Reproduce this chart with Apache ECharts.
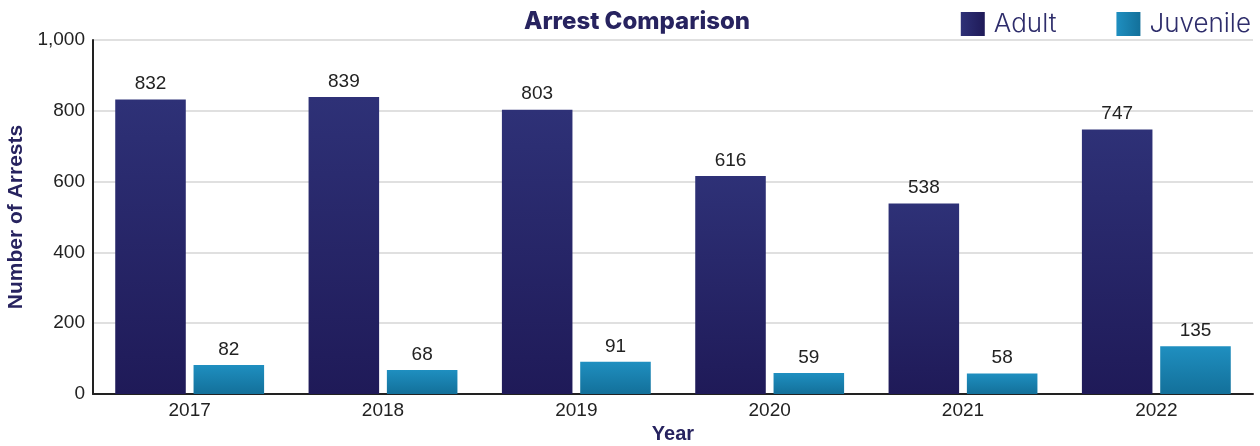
<!DOCTYPE html>
<html><head><meta charset="utf-8">
<script src="https://cdn.jsdelivr.net/npm/echarts@6/dist/echarts.min.js"></script>
<style>html,body{margin:0;padding:0;background:#fff}#c{width:1260px;height:446px}</style>
</head><body><div id="c"></div>
<script>
const years = ['2017','2018','2019','2020','2021','2022'];
const adult = [832, 839, 803, 616, 538, 747];
const juvenile = [82, 68, 91, 59, 58, 135];
const yTicks = [0, 200, 400, 600, 800, 1000];

const G = echarts.graphic;
const adultFill = new G.LinearGradient(0,0,0,1,[{offset:0,color:'#2e3177'},{offset:1,color:'#1f1a58'}]);
const juvFill = new G.LinearGradient(0,0,0,1,[{offset:0,color:'#1f8fc0'},{offset:1,color:'#13709a'}]);
const adultLeg = new G.LinearGradient(0,0,1,0,[{offset:0,color:'#2e3177'},{offset:1,color:'#1f1a58'}]);
const juvLeg = new G.LinearGradient(0,0,1,0,[{offset:0,color:'#1f8fc0'},{offset:1,color:'#13709a'}]);
const font = '"Liberation Sans", Arial, sans-serif';
const chart = echarts.init(document.getElementById('c'));
chart.setOption({
  animation:false,
  title:{text:'Arrest Comparison',left:632,textAlign:'center',top:5,
    textStyle:{fontFamily:'Inter, sans-serif',fontWeight:800,fontSize:24,color:'#27235f'}},
  legend:{right:4,top:6,itemWidth:24,itemHeight:24,itemGap:60,icon:'rect',
    textStyle:{fontFamily:'Inter, sans-serif',fontWeight:300,fontSize:26,color:'#2e2d6b',padding:[0,0,0,4]},
    data:[{name:'Adult',itemStyle:{color:adultLeg}},{name:'Juvenile',itemStyle:{color:juvLeg}}]},
  grid:{left:93,right:7,top:40,bottom:52,outerBoundsMode:'none',containLabel:false},
  xAxis:{type:'category',data:years,name:'Year',nameLocation:'middle',nameGap:30,
    nameTextStyle:{fontFamily:font,fontWeight:'bold',fontSize:20,color:'#27235f'},
    axisLine:{lineStyle:{color:'#222',width:2}},
    axisTick:{inside:true,length:8,lineStyle:{color:'#ccc',width:2}},
    axisLabel:{fontFamily:font,fontSize:19,color:'#222',margin:7}},
  yAxis:{type:'value',min:0,max:1000,interval:200,name:'Number of Arrests',nameLocation:'middle',nameGap:58,
    nameTextStyle:{fontFamily:font,fontWeight:'bold',fontSize:21,color:'#27235f'},
    axisLine:{show:true,lineStyle:{color:'#222',width:2}},axisTick:{show:false},
    splitLine:{lineStyle:{color:'#e0e0e0',width:2}},
    axisLabel:{fontFamily:font,fontSize:19,color:'#222',margin:8,
      formatter:v=>v.toLocaleString('en-US')}},
  series:[
    {name:'Adult',type:'bar',data:adult,barGap:'11%',barCategoryGap:'23%',
     itemStyle:{color:adultFill},
     label:{show:true,position:'top',distance:6,fontFamily:font,fontSize:19,color:'#222'}},
    {name:'Juvenile',type:'bar',data:juvenile,
     itemStyle:{color:juvFill},
     label:{show:true,position:'top',distance:6,fontFamily:font,fontSize:19,color:'#222'}}
  ]
});
</script></body></html>
